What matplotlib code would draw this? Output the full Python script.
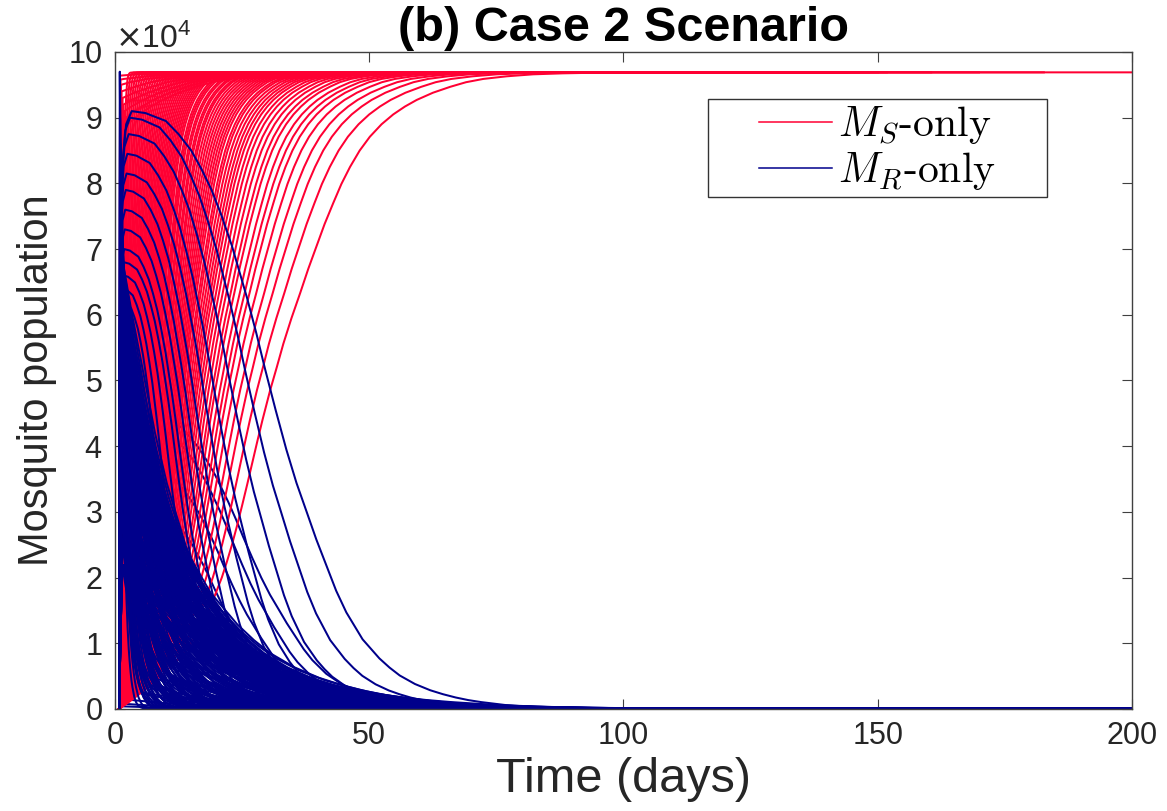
import numpy as np
import matplotlib.pyplot as plt
from matplotlib.lines import Line2D
from matplotlib.patches import Rectangle

plt.rcParams['font.family'] = ['Liberation Sans', 'DejaVu Sans']

red = '#ff0033'
blue = '#00008b'

T0 = 0.8  # every run leaves the axis here

# outermost red run (M_S-only): days, x1e4 mosquitoes
red_base_t = [0.8, 3, 6, 9, 12, 13.5, 15, 16.5, 18, 19.5, 21, 22, 23, 24, 25, 26, 27, 28,
              29, 30.5, 31.8, 33.1, 34.7, 36.4, 38, 39.6, 41.2, 42.9, 44.5, 46.2, 48.1,
              50.1, 52.4, 54.7, 57, 59.3, 62.5, 65.9, 69, 72.4, 77, 82.2, 88, 95, 120, 200]
red_base_v = [0.0, 0.12, 0.3, 0.5, 0.72, 0.85, 1.0, 1.19, 1.42, 1.7, 2.0, 2.24, 2.5, 2.79,
              3.1, 3.42, 3.75, 4.08, 4.4, 4.85, 5.2, 5.56, 5.95, 6.33, 6.7, 7.04, 7.38,
              7.70, 7.99, 8.25, 8.5, 8.71, 8.9, 9.05, 9.17, 9.27, 9.38, 9.47, 9.54, 9.59,
              9.63, 9.66, 9.675, 9.685, 9.69, 9.69]

# day at which each red run passes half of the plateau
red_half_t = [1.5, 1.7, 1.9, 2.1, 2.3, 2.5, 2.7, 2.9, 3.1, 3.3, 3.5, 3.7, 3.9, 4.1,
              4.3, 4.5, 4.7, 4.9, 5.1, 5.3, 5.5, 5.7, 5.9, 6.1, 6.3, 6.5, 6.7, 6.9,
              7.1, 7.3, 7.5, 7.7, 7.9, 8.1, 8.3, 8.6, 8.8, 9.0, 9.3, 9.5, 9.8, 10.0,
              10.3, 10.5, 10.8, 11.1, 11.4, 11.7, 12.0, 12.3, 12.6, 12.9, 13.2, 13.5,
              13.9, 14.2, 14.6, 15.0, 15.4, 15.8, 16.2, 16.7, 17.2, 17.8, 18.4, 19.1,
              19.7, 20.6, 21.4, 22.2, 23.3, 24.6, 26.0, 27.9, 30.5]

# red runs that shoot up almost at once, then creep to the plateau
kink_t = [1.0, 1.1, 1.2, 1.3, 1.5, 1.7, 1.9, 2.2, 2.5]
kink_v = [9.64, 9.58, 9.5, 9.4, 9.3, 9.2, 9.1, 9.0, 8.9]

# outermost blue run (M_R-only)
blue_base_t = [0.8, 1.1, 1.5, 2.2, 3.3, 6, 10, 12.5, 15, 17, 19, 21, 23, 26, 27.8,
               29.5, 31.6, 33.7, 35.7, 37.7, 39.6, 41.6, 43.5, 45.5, 48.7, 52, 54,
               56, 59, 62, 64.5, 67, 69.5, 72, 77, 82, 86, 90, 95, 100, 110, 120, 200]
blue_base_v = [0.0, 6.5, 8.3, 8.9, 9.1, 9.07, 8.95, 8.75, 8.5, 8.22, 7.9, 7.5, 7.05, 6.25, 5.72,
               5.18, 4.55, 3.95, 3.44, 3.0, 2.58, 2.18, 1.8, 1.47, 1.06, 0.77, 0.63,
               0.51, 0.38, 0.285, 0.225, 0.175, 0.135, 0.105, 0.058, 0.032, 0.02, 0.013,
               0.0075, 0.0043, 0.0015, 0.0005, 0.0]

# blue runs with a rounded top: peak and day at half of the peak
low_arc_peak = [4.6, 4.4, 3.8, 3.2]
low_arc_half_t = [27.0, 25.0, 23.0, 21.0]
arc_peak = [6.2, 6.4, 6.6, 6.8, 7.0, 7.3, 7.6, 7.9, 8.15, 8.45, 8.75, 9.0, 9.1]
arc_half_t = [8.8, 9.9, 11.3, 12.7, 13.5, 14.7, 15.8, 17.2, 19.1, 21.0, 24.2, 27.5, 31.6]

# blue runs that fall right after a sharp early peak:
# one peak value and peak day per row, the days at half of the peak in that row
drop_peak = [9.7, 9.4, 9.0, 8.6, 8.2, 7.8, 7.4, 7.0, 6.6, 6.2, 5.8, 5.4, 5.0, 4.6, 4.2,
             3.8, 3.4, 3.0, 2.6, 2.2, 1.8, 1.5, 1.2, 0.9, 0.7, 0.5, 0.3, 0.15, 0.08, 0.04]
drop_peak_t = [0.95, 1.0, 1.0, 1.05, 1.05, 1.1, 1.1, 1.1, 1.15, 1.15, 1.2, 1.2, 1.2, 1.25, 1.25,
               1.3, 1.3, 1.3, 1.35, 1.4, 1.45, 1.5, 1.55, 1.6, 1.65, 1.7, 1.7, 1.7, 1.6, 1.5]
drop_half_t = [
    [1.5], [1.7], [1.9], [2.1, 2.6], [2.3, 2.9], [2.5, 3.2, 3.8], [2.7, 3.5, 4.3],
    [2.9, 3.8, 4.7, 5.6, 6.5, 7.4, 8.3, 9.2, 10.0],
    [3.0, 4.0, 5.0, 6.0, 7.0, 7.5, 8.2, 8.9, 9.6, 10.3],
    [3.2, 4.3, 5.4, 6.5, 7.1, 7.6, 8.1, 8.6, 9.0, 9.5, 10.0, 10.5],
    [2.5, 3.5, 4.6, 5.7, 6.8, 7.9, 8.4, 9.0, 9.5, 10.0, 10.5, 11.0, 11.5],
    [2.7, 3.7, 4.8, 5.9, 7.0, 8.1, 8.7, 9.2, 9.8, 10.3, 10.8, 11.3, 11.8, 12.3],
    [2.2, 3.2, 4.2, 5.2, 6.2, 7.2, 8.2, 9.2, 9.7, 10.4, 10.9, 11.4, 11.9, 12.4, 12.9, 13.4],
    [2.5, 3.5, 4.5, 5.5, 6.5, 7.5, 8.5, 9.6, 10.2, 10.7, 11.2, 11.8, 12.3, 12.8, 13.3, 13.8],
    [2.3, 3.3, 4.4, 5.5, 6.6, 7.7, 8.8, 9.9, 10.5, 11.0, 11.6, 12.2, 12.7, 13.2, 13.7],
    [2.8, 4.0, 5.2, 6.4, 7.6, 8.8, 10.0, 11.2, 11.9, 12.6, 13.2, 13.8, 14.4],
    [2.5, 3.8, 5.1, 6.4, 7.7, 9.0, 10.3, 11.6, 12.3, 13.0, 13.6, 14.2, 14.8],
    [3.0, 4.5, 6.0, 7.5, 9.0, 10.5, 12.0, 12.8, 13.5, 14.2, 15.0, 15.7],
    [3.5, 5.0, 6.5, 8.0, 9.5, 11.0, 12.5, 13.3, 14.0, 14.8, 15.5],
    [4.0, 6.0, 8.0, 10.0, 12.0, 13.0, 14.0, 15.0, 15.8, 16.5],
    [4.5, 7.0, 9.5, 12.0, 14.5, 15.3, 16.0, 17.0],
    [5.0, 8.0, 11.0, 14.0, 16.0], [6.0, 9.0, 12.0, 15.0], [7.0, 10.0, 13.0],
    [9.0, 12.0, 14.0], [10.0, 12.0], [11.0, 14.0], [12.0], [10.0], [10.0]]

tail_start = 37.7  # drop runs follow the outer blue tail from here on
low_peak = 2.0     # drops below this lie under the red runs


rt, rv = np.array(red_base_t), np.array(red_base_v)
bt, bv = np.array(blue_base_t), np.array(blue_base_v)
red_half = np.interp(rv.max() / 2, rv, rt)
ipk = bv.argmax()
blue_half = np.interp(bv[ipk] / 2, bv[ipk:][::-1], bt[ipk:][::-1])
tail = bt >= tail_start
tt, tv = bt[tail], bv[tail]
tail_half = np.interp(tv[0] / 2, tv[::-1], tt[::-1]) - tt[0]


def red_run(th):
    k = (red_half - T0) / (th - T0)
    return T0 + (rt - T0) / k, rv


def kink_run(tk, vk):
    sk = np.interp(vk, rv, rt)
    keep = rv > vk
    return np.r_[T0, tk, tk + rt[keep] - sk], np.r_[0, vk, rv[keep]]


def arc_run(p, th):
    k = (blue_half - T0) / (th - T0)
    return T0 + (bt - T0) / k, bv * p / bv[ipk]


def drop_run(p, tp, th):
    k = tail_half / (th - tp)
    return np.r_[T0, tp + (tt - tt[0]) / k], np.r_[0, p * tv / tv[0]]


reds = [kink_run(tk, vk) for tk, vk in zip(kink_t, kink_v)]
reds += [red_run(h) for h in red_half_t]
low_drops, drops = [], []
for p, tp, row in zip(drop_peak, drop_peak_t, drop_half_t):
    for th in row:
        (low_drops if p < low_peak else drops).append(drop_run(p, tp, th))
low_arcs = [arc_run(p, th) for p, th in zip(low_arc_peak, low_arc_half_t)]
arcs = [arc_run(p, th) for p, th in zip(arc_peak, arc_half_t)]

fig = plt.figure(figsize=(11.67, 8.11), dpi=100)
ax = fig.add_axes([0.0985, 0.1258, 0.8715, 0.8101])

lw = 1.45
for t, v in low_drops + low_arcs:
    ax.plot(t, v * 1e4, color=blue, lw=lw)
for t, v in reds:
    ax.plot(t, v * 1e4, color=red, lw=lw)
for t, v in drops + arcs:
    ax.plot(t, v * 1e4, color=blue, lw=lw)

ax.set_xlim(0, 200)
ax.set_ylim(0, 1e5)
ax.set_xticks([0, 50, 100, 150, 200])
ax.set_yticks(np.arange(0, 100001, 10000))
ax.ticklabel_format(axis='y', style='sci', scilimits=(4, 4), useMathText=True)
ax.yaxis.get_offset_text().set_fontsize(23)
ax.yaxis.get_offset_text().set_color('#262626')
ax.tick_params(direction='in', top=True, right=True, length=7, width=0.8,
               labelsize=22, pad=9, colors='#404040', labelcolor='#262626')
for s in ax.spines.values():
    s.set_color('#404040')
    s.set_linewidth(1.0)

ax.set_title('(b) Case 2 Scenario', fontsize=35, fontweight='bold', pad=8)
ax.set_xlabel('Time (days)', fontsize=35, color='#262626', labelpad=4)
ax.set_ylabel('Mosquito population', fontsize=30, color='#262626', labelpad=8)

handles = [Line2D([], [], color=red, lw=1.1), Line2D([], [], color=blue, lw=1.1)]
leg = ax.legend(handles, [r'$M_S$-only', r'$M_R$-only'], loc='center',
                bbox_to_anchor=(0.7495, 0.8535), frameon=False,
                prop={'family': 'cmr10', 'size': 30}, handlelength=1.75,
                handletextpad=0.15, labelspacing=0.1)
for txt in leg.get_texts():
    txt.set_math_fontfamily('cm')
ax.add_patch(Rectangle((0.583, 0.779), 0.333, 0.149, transform=ax.transAxes,
                       facecolor='white', edgecolor='#333333', lw=1.0, zorder=4.5))

fig.savefig('out.png', dpi=100)
